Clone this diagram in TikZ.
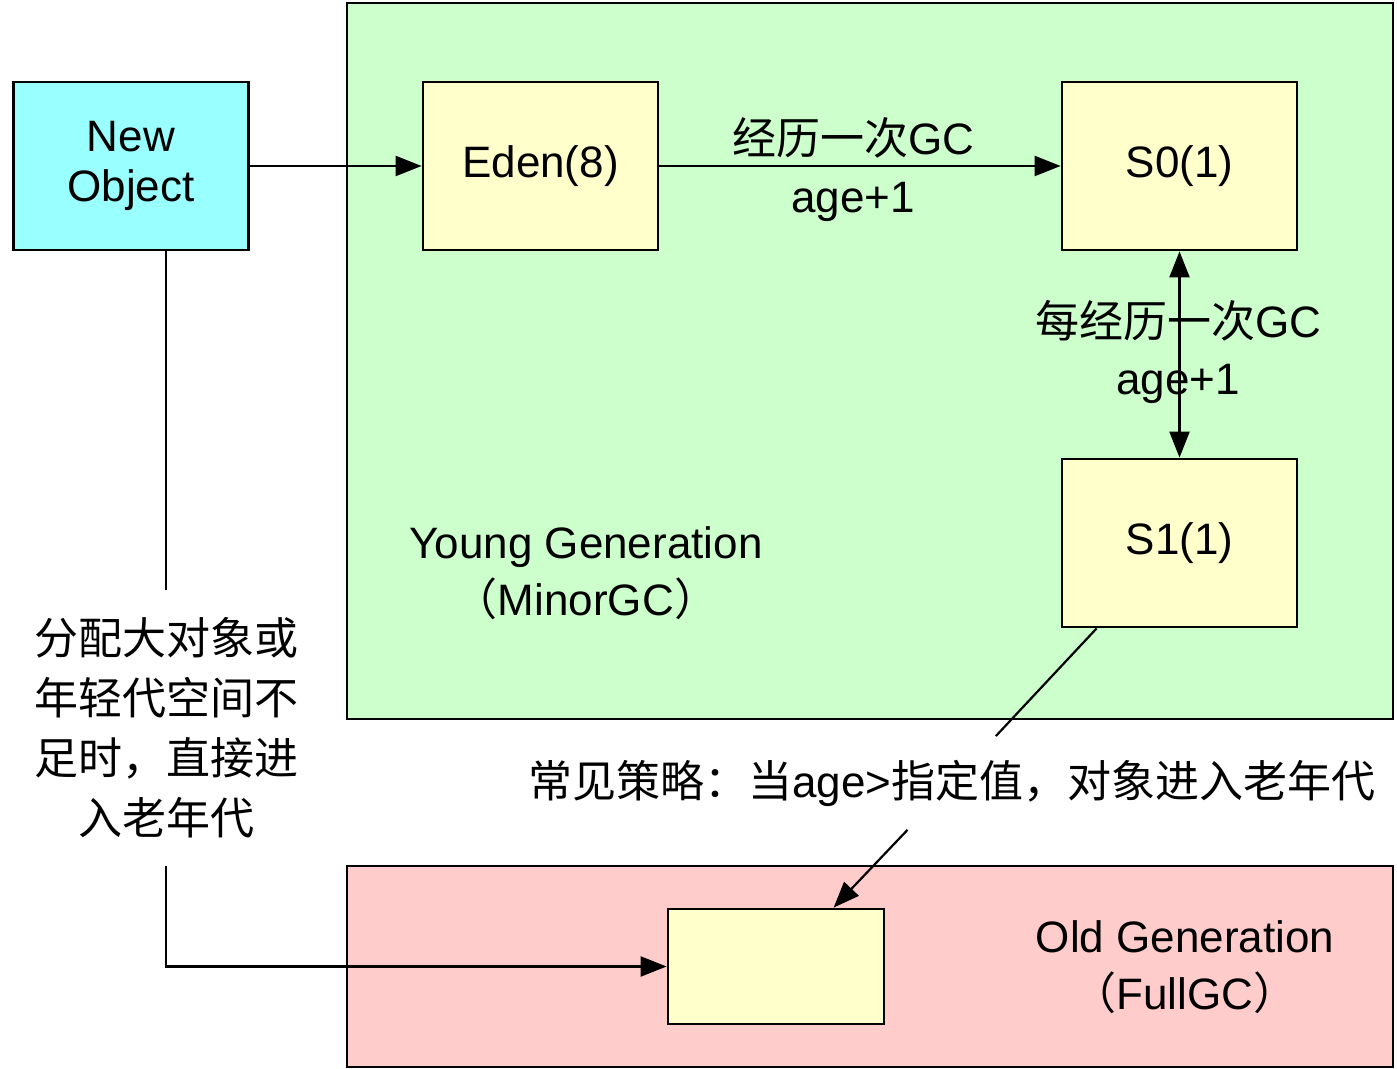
\documentclass[tikz,border=0pt]{standalone}
\usepackage{fontspec}
\setmainfont{Liberation Sans}
\newfontfamily\cjk{Noto Sans CJK SC}
\newfontfamily\cjkhalt[RawFeature=+halt]{Noto Sans CJK SC}
\usetikzlibrary{arrows.meta,calc}
\newcommand\zh[1]{{\cjk #1}}
\newcommand\hp[1]{{\cjkhalt #1}}
\definecolor{cyanfill}{HTML}{99FFFF}
\definecolor{greenfill}{HTML}{CCFFCC}
\definecolor{yellowfill}{HTML}{FFFFCC}
\definecolor{pinkfill}{HTML}{FFCCCC}
\begin{document}
\begin{tikzpicture}[x=0.5pt,y=-0.5pt,
  region/.style={draw, line width=1.4pt, inner sep=0pt},
  box/.style={draw, line width=1.4pt, inner sep=0pt, align=center,
    font=\fontsize{22}{25}\selectfont, minimum width=117.5pt, minimum height=84pt},
  lbl/.style={inner sep=0pt, align=center, font=\fontsize{22}{28.5}\selectfont},
  conn/.style={line width=1.1pt},
  tip/.tip={Triangle[length=13pt,width=10pt]},
  arr/.style={conn, -tip}]
\useasboundingbox (0,0) rectangle (1397,1069);

% regions
\node[region, fill=greenfill, minimum width=523pt, minimum height=358pt] (young) at (870,361) {};
\node[region, fill=pinkfill, minimum width=523pt, minimum height=100.5pt] (old) at (870,966.5) {};

% boxes
\node[box, fill=cyanfill] (nobj) at (131,166) {New\\Object};
\node[box, fill=yellowfill] (eden) at (540.5,166) {Eden(8)};
\node[box, fill=yellowfill] (s0) at (1179.5,166) {S0(1)};
\node[box, fill=yellowfill] (s1) at (1179.5,543) {S1(1)};
\node[box, fill=yellowfill, minimum width=108pt, minimum height=57.5pt] (oldbox) at (776,966.5) {};

% region labels
\node[lbl] (younglbl) at (586,573) {Young Generation\\\hp{（}MinorGC\hp{）}};
\node[lbl] (oldlbl) at (1185,967) {Old Generation\\\hp{（}FullGC\hp{）}};

% New Object -> Eden
\draw[arr] (nobj) -- (eden);

% Eden -> S0
\draw[arr] (eden) -- (s0);
\node[lbl] (gc1) at (853,138) {\zh{经历一次}GC};
\node[lbl] (age1) at (853,202) {age+1};

% S0 <-> S1
\draw[conn, tip-tip] (s0) -- (s1);
\node[lbl] (gc2) at (1178,321) {\zh{每经历一次}GC};
\node[lbl] (age2) at (1178,384) {age+1};

% S1 -> old box, through the strategy label
\coordinate (sa) at ($(s1.south west)+(36,0)$);
\coordinate (sb) at ($(oldbox.north west)+(167,0)$);
\node[lbl, minimum height=46.5pt] (strat) at (952,783) {\zh{常见策略：当}age>\zh{指定值，对象进入老年代}};
\draw[conn] (sa) -- (strat);
\draw[arr] (strat) -- (sb);

% New Object -> old box, direct
\node[lbl, font={\cjk\fontsize{22}{30}\selectfont}, minimum height=138pt] (big) at (166,728)
  {分配大对象或\\年轻代空间不\\足时，直接进\\入老年代};
\coordinate (na) at (big |- nobj.south);
\draw[conn] (na) -- (big);
\draw[arr] (big) |- (oldbox);
\end{tikzpicture}
\end{document}
